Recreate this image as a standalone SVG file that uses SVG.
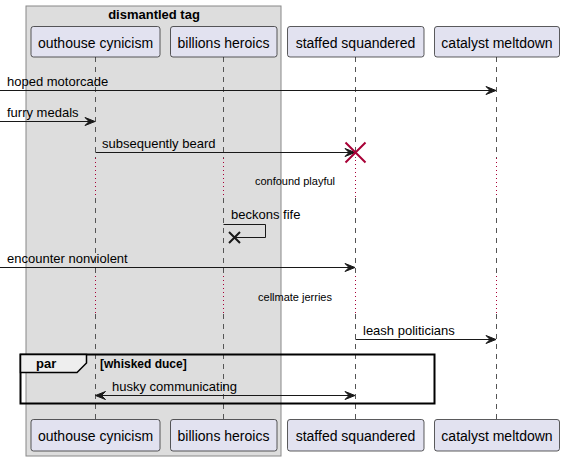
<svg xmlns="http://www.w3.org/2000/svg" width="564" height="461" viewBox="0 0 564 461">
<style>
.pbox{fill:#E2E2F0;stroke:#181818;stroke-width:0.7}
.ptxt{font-family:"Liberation Sans",Arial,sans-serif;font-size:14px;fill:#000;text-anchor:middle}
.life{stroke:#555;stroke-width:1;stroke-dasharray:5,5;fill:none}
.delay{stroke:#A80036;stroke-width:1;stroke-dasharray:1,3;fill:none}
.msg{stroke:#181818;stroke-width:1;fill:none}
.mtxt{font-family:"Liberation Sans",Arial,sans-serif;font-size:13px;fill:#000}
.dtxt{font-family:"Liberation Sans",Arial,sans-serif;font-size:11px;fill:#000;text-anchor:middle}
.head{fill:#181818;stroke:#181818;stroke-width:1}
</style>
<g id="box-dismantled-tag">
<rect x="26" y="6" width="255" height="450" fill="#DDDDDD" stroke="#888" stroke-width="1"/>
<text x="154" y="19" font-family="Liberation Sans,Arial,sans-serif" font-size="13" font-weight="bold" text-anchor="middle">dismantled tag</text>
</g>
<g id="lifelines">
<g id="life-outhouse">
<line class="life" x1="95.5" y1="57" x2="95.5" y2="158"/>
<line class="delay" x1="95.5" y1="158" x2="95.5" y2="198"/>
<line class="life" x1="95.5" y1="198" x2="95.5" y2="276"/>
<line class="delay" x1="95.5" y1="276" x2="95.5" y2="314"/>
<line class="life" x1="95.5" y1="314" x2="95.5" y2="419"/>
</g>
<g id="life-billions">
<line class="life" x1="223.5" y1="57" x2="223.5" y2="158"/>
<line class="delay" x1="223.5" y1="158" x2="223.5" y2="198"/>
<line class="life" x1="223.5" y1="198" x2="223.5" y2="276"/>
<line class="delay" x1="223.5" y1="276" x2="223.5" y2="314"/>
<line class="life" x1="223.5" y1="314" x2="223.5" y2="419"/>
</g>
<g id="life-staffed">
<line class="life" x1="355.5" y1="57" x2="355.5" y2="158"/>
<line class="delay" x1="355.5" y1="160" x2="355.5" y2="198"/>
<line class="life" x1="355.5" y1="198" x2="355.5" y2="276"/>
<line class="delay" x1="355.5" y1="276" x2="355.5" y2="314"/>
<line class="life" x1="355.5" y1="314" x2="355.5" y2="419"/>
</g>
<g id="life-catalyst">
<line class="life" x1="496.5" y1="57" x2="496.5" y2="158"/>
<line class="delay" x1="496.5" y1="158" x2="496.5" y2="198"/>
<line class="life" x1="496.5" y1="198" x2="496.5" y2="276"/>
<line class="delay" x1="496.5" y1="276" x2="496.5" y2="314"/>
<line class="life" x1="496.5" y1="314" x2="496.5" y2="419"/>
</g>
</g>
<g id="outhouse-cynicism">
<rect class="pbox" x="31" y="26.5" width="129" height="30.5" rx="2.5"/>
<text class="ptxt" x="95.5" y="47.5">outhouse cynicism</text>
<rect class="pbox" x="31" y="419.5" width="129" height="31.5" rx="2.5"/>
<text class="ptxt" x="95.5" y="441">outhouse cynicism</text>
</g>
<g id="billions-heroics">
<rect class="pbox" x="170.5" y="26.5" width="106.5" height="30.5" rx="2.5"/>
<text class="ptxt" x="223.5" y="47.5">billions heroics</text>
<rect class="pbox" x="170.5" y="419.5" width="106.5" height="31.5" rx="2.5"/>
<text class="ptxt" x="223.5" y="441">billions heroics</text>
</g>
<g id="staffed-squandered">
<rect class="pbox" x="287.5" y="26.5" width="136.5" height="30.5" rx="2.5"/>
<text class="ptxt" x="355.5" y="47.5">staffed squandered</text>
<rect class="pbox" x="287.5" y="419.5" width="136.5" height="31.5" rx="2.5"/>
<text class="ptxt" x="355.5" y="441">staffed squandered</text>
</g>
<g id="catalyst-meltdown">
<rect class="pbox" x="434.5" y="26.5" width="125" height="30.5" rx="2.5"/>
<text class="ptxt" x="497" y="47.5">catalyst meltdown</text>
<rect class="pbox" x="434.5" y="419.5" width="125" height="31.5" rx="2.5"/>
<text class="ptxt" x="497" y="441">catalyst meltdown</text>
</g>
<g id="connectors">
<line class="msg" x1="0" y1="90.5" x2="494" y2="90.5"/>
<polygon class="head" points="486,86.5 496,90.5 486,94.5 490,90.5"/>
<text class="mtxt" x="7" y="86">hoped motorcade</text>

<line class="msg" x1="0" y1="121.5" x2="93" y2="121.5"/>
<polygon class="head" points="85,117.5 95,121.5 85,125.5 89,121.5"/>
<text class="mtxt" x="7" y="117">furry medals</text>

<line class="msg" x1="95.5" y1="152.5" x2="353" y2="152.5"/>
<polygon class="head" points="345,148.5 355,152.5 345,156.5 349,152.5"/>
<text class="mtxt" x="102" y="148">subsequently beard</text>
<path d="M345.5,142.5 L365.5,162.5 M365.5,142.5 L345.5,162.5" stroke="#A80036" stroke-width="2" fill="none"/>

<text class="dtxt" x="295" y="185">confound playful</text>

<polyline class="msg" points="223.5,224.5 265.5,224.5 265.5,237.5 236,237.5"/>
<path d="M229,232 L240,243 M240,232 L229,243" stroke="#181818" stroke-width="2" fill="none"/>
<text class="mtxt" x="231" y="219">beckons fife</text>

<line class="msg" x1="0" y1="267.5" x2="353" y2="267.5"/>
<polygon class="head" points="345,263.5 355,267.5 345,271.5 349,267.5"/>
<text class="mtxt" x="7" y="263">encounter nonviolent</text>

<text class="dtxt" x="295" y="301">cellmate jerries</text>

<line class="msg" x1="355.5" y1="339.5" x2="494" y2="339.5"/>
<polygon class="head" points="486,335.5 496,339.5 486,343.5 490,339.5"/>
<text class="mtxt" x="363" y="335">leash politicians</text>

<line class="msg" x1="98" y1="395.5" x2="353" y2="395.5"/>
<polygon class="head" points="105.5,391.5 95.5,395.5 105.5,399.5 101.5,395.5"/>
<polygon class="head" points="345,391.5 355,395.5 345,399.5 349,395.5"/>
<text class="mtxt" x="112" y="391">husky communicating</text>
</g>
<g id="par-frame">
<rect x="20.5" y="354.5" width="414" height="49" fill="none" stroke="#000" stroke-width="2"/>
<path d="M20.5,354.5 L86.5,354.5 L86.5,363 L77,372.5 L20.5,372.5 Z" fill="#EEEEEE" stroke="#000" stroke-width="1.5"/>
<text x="36" y="368" font-family="Liberation Sans,Arial,sans-serif" font-size="13" font-weight="bold">par</text>
<text x="100" y="367.5" font-family="Liberation Sans,Arial,sans-serif" font-size="12" font-weight="bold">[whisked duce]</text>
</g>
</svg>
